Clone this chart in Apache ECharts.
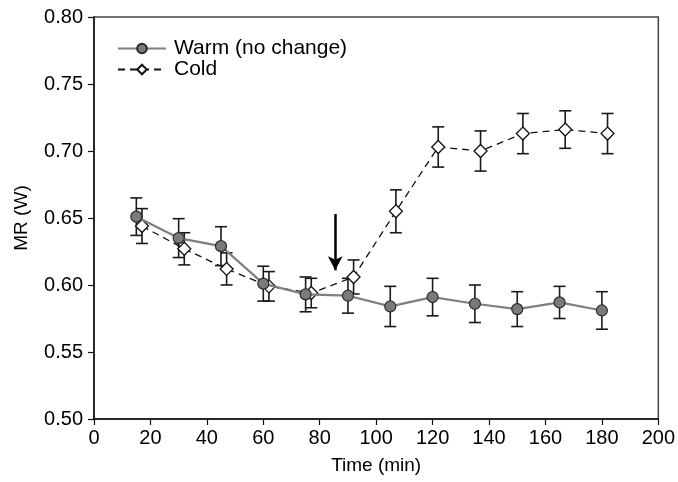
<!DOCTYPE html>
<html>
<head>
<meta charset="utf-8">
<script src="https://cdn.jsdelivr.net/npm/echarts@6/dist/echarts.min.js"></script>
<style>html,body{margin:0;padding:0;background:#fff}#c{width:678px;height:482px}</style>
</head>
<body>
<div id="c"></div>
<script>
var warmTime = [15,30,45,60,75,90,105,120,135,150,165,180];
var warmMR   = [0.651,0.635,0.629,0.601,0.593,0.592,0.584,0.591,0.586,0.582,0.587,0.581];
var warmErr  = [0.014,0.0145,0.0145,0.013,0.013,0.013,0.015,0.014,0.014,0.013,0.012,0.014];
var coldTime = [17,32,47,62,77,92,107,122,137,152,167,182];
var coldMR   = [0.644,0.627,0.612,0.599,0.594,0.606,0.655,0.703,0.700,0.713,0.716,0.713];
var coldErr  = [0.013,0.012,0.012,0.011,0.011,0.0127,0.016,0.015,0.015,0.015,0.014,0.015];
var arrowTime = 85.5, arrowFrom = 0.653, arrowTo = 0.611;
var seriesNames = ['Warm (no change)', 'Cold'];

var FONT = 'Liberation Sans, Arial, Helvetica, sans-serif';
function pts(t, v){ return t.map(function(x,i){ return [x, v[i]]; }); }
function errData(t, v, e){ return t.map(function(x,i){ return [x, v[i], e[i]]; }); }
function errRender(params, api){
  var x = api.value(0), m = api.value(1), e = api.value(2);
  var hi = api.coord([x, m + e]), lo = api.coord([x, m - e]);
  var w = 6;
  var st = {stroke:'#1a1a1a', lineWidth:1.6};
  return {type:'group', children:[
    {type:'line', shape:{x1:hi[0], y1:hi[1], x2:lo[0], y2:lo[1]}, style:st},
    {type:'line', shape:{x1:hi[0]-w, y1:hi[1], x2:hi[0]+w, y2:hi[1]}, style:st},
    {type:'line', shape:{x1:lo[0]-w, y1:lo[1], x2:lo[0]+w, y2:lo[1]}, style:st}
  ]};
}

var chart = echarts.init(document.getElementById('c'), null, {renderer:'canvas'});
chart.setOption({
  animation:false,
  backgroundColor:'#fff',
  grid:{left:94, right:18, top:17, bottom:63, show:true, borderColor:'#444', borderWidth:1.5, backgroundColor:'transparent'},
  legend:{
    left:112, top:33, orient:'vertical', itemGap:0, itemWidth:48, itemHeight:12,
    data:seriesNames,
    textStyle:{fontFamily:FONT, fontSize:21, color:'#000', padding:[0,0,0,3]}
  },
  xAxis:{
    type:'value', min:0, max:200, interval:20,
    name:'Time (min)', nameLocation:'middle', nameGap:37,
    nameTextStyle:{fontFamily:FONT, fontSize:19, color:'#000'},
    axisLine:{show:true, onZero:false, lineStyle:{color:'#111', width:1.5}},
    axisTick:{show:true, inside:false, length:6, lineStyle:{color:'#111', width:1.2}},
    axisLabel:{fontFamily:FONT, fontSize:20, color:'#000', margin:9},
    splitLine:{show:false}
  },
  yAxis:{
    type:'value', min:0.50, max:0.80, interval:0.05,
    name:'MR (W)', nameLocation:'middle', nameGap:63, nameRotate:90,
    nameTextStyle:{fontFamily:FONT, fontSize:19, color:'#000'},
    axisLine:{show:true, onZero:false, lineStyle:{color:'#111', width:1.5}},
    axisTick:{show:true, inside:false, length:6, lineStyle:{color:'#111', width:1.2}},
    axisLabel:{fontFamily:FONT, fontSize:20, color:'#000', margin:11, formatter:function(v){return v.toFixed(2);}},
    splitLine:{show:false}
  },
  series:[
    {type:'custom', name:'warmErr', renderItem:errRender, data:errData(warmTime, warmMR, warmErr), z:2, silent:true, encode:{x:0,y:1}},
    {type:'custom', name:'coldErr', renderItem:errRender, data:errData(coldTime, coldMR, coldErr), z:2, silent:true, encode:{x:0,y:1}},
    {
      type:'line', name:seriesNames[1], data:pts(coldTime, coldMR), z:3,
      symbol:'diamond', symbolSize:[13,13], showAllSymbol:true,
      lineStyle:{color:'#111', width:1.3, type:[7,5]},
      itemStyle:{color:'#fff', borderColor:'#111', borderWidth:1.3}
    },
    {
      type:'line', name:seriesNames[0], data:pts(warmTime, warmMR), z:4,
      symbol:'circle', symbolSize:11, showAllSymbol:true,
      lineStyle:{color:'#7f7f7f', width:2.2},
      itemStyle:{color:'#7a7a7a', borderColor:'#2a2a2a', borderWidth:1.2},
      markLine:{
        silent:true, animation:false,
        label:{show:false},
        lineStyle:{color:'#000', width:2.5, type:'solid'},
        symbolSize:[11,14],
        data:[[{coord:[arrowTime, arrowFrom], symbol:'none'},{coord:[arrowTime, arrowTo], symbol:'arrow'}]]
      }
    }
  ]
});
</script>
</body>
</html>
